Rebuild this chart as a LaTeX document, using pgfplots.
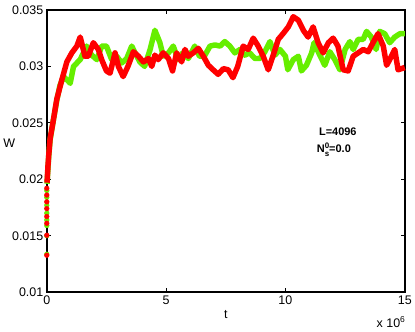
\documentclass[border=0pt]{standalone}
\usepackage{pgfplots}
\pgfplotsset{compat=1.18}
\usepackage{fontspec}
\setmainfont{Liberation Sans}
\definecolor{wgreen}{HTML}{66EE00}
\definecolor{wred}{HTML}{FF0000}

\begin{document}
\begin{tikzpicture}
\begin{axis}[
    scale only axis,
    width=359pt, height=283pt,
    xmin=0, xmax=15, ymin=0.01, ymax=0.035,
    axis line style={line width=1.6pt},
    tick style={black, line width=0.8pt},
    tick align=inside,
    major tick length=4pt,
    scaled ticks=false,
    xtick={0,5,10,15},
    xticklabels={0,5,10,15},
    ytick={0.01,0.015,0.02,0.025,0.03,0.035},
    yticklabels={0.01,0.015,0.02,0.025,0.03,0.035},
    ticklabel style={font=\fontsize{12.5}{14}\selectfont},
    xlabel={t}, ylabel={W},
    label style={font=\fontsize{12.5}{14}\selectfont},
    xlabel style={at={(axis description cs:0.5,-0.078)}, anchor=center},
    ylabel style={at={(axis description cs:-0.105,0.527)}, anchor=center, rotate=-90},
    clip=false,
]
% green series
\addplot[wgreen, only marks, mark=*, mark size=2.4pt] coordinates {
(0,0.01336) (0,0.0150) (0,0.0159) (0,0.0164) (0,0.0170) (0,0.0177) (0,0.0184) (0,0.0190)
};
\addplot[wgreen, line width=5.5pt, line join=round, mark=none] coordinates {
(0.01,0.0196) (0.05,0.0210) (0.08,0.0220) (0.14,0.0235) (0.28,0.0253) (0.42,0.0270)
(0.55,0.0283) (0.7,0.0291) (0.9,0.0287) (0.98,0.0285) (1.12,0.0300) (1.4,0.0306)
(1.67,0.0318) (1.88,0.0310) (2.1,0.0306) (2.3,0.0318) (2.5,0.0318) (2.72,0.0306)
(2.93,0.0309) (3.14,0.0303) (3.35,0.0307) (3.56,0.0318) (3.7,0.0312) (3.9,0.0304)
(4.1,0.0300) (4.33,0.0315) (4.53,0.0332) (4.74,0.0321) (4.88,0.0309) (5.1,0.0312)
(5.3,0.0318) (5.5,0.0306) (5.7,0.0312) (5.93,0.0307) (6.2,0.0318) (6.4,0.0309)
(6.6,0.0309) (6.84,0.0318) (7.05,0.0319) (7.26,0.0318) (7.46,0.0322) (7.67,0.0318)
(7.88,0.0312) (8.1,0.0315) (8.3,0.0310) (8.5,0.0312) (8.72,0.0307) (8.93,0.0307)
(9.14,0.0313) (9.35,0.0322) (9.56,0.0310) (9.77,0.0315) (10.0,0.0309) (10.1,0.0297)
(10.33,0.0306) (10.54,0.0309) (10.67,0.0296) (10.88,0.0301) (11.1,0.0312) (11.2,0.0321)
(11.44,0.0310) (11.65,0.0301) (11.86,0.0313) (12.07,0.0306) (12.28,0.0297) (12.5,0.0315)
(12.7,0.0322) (12.84,0.0315) (13.05,0.0324) (13.26,0.0324) (13.4,0.0331) (13.6,0.0326)
(13.8,0.0315) (13.95,0.0331) (14.16,0.0329) (14.37,0.0321) (14.58,0.0326) (14.8,0.0329)
(15.0,0.0329)
};
% red series
\addplot[wred, only marks, mark=*, mark size=2.4pt] coordinates {
(0,0.01327) (0,0.01504) (0,0.0161) (0,0.0167) (0,0.0174) (0,0.0180) (0,0.0186) (0,0.0192)
};
\addplot[wred, line width=5.5pt, line join=round, mark=none] coordinates {
(0.01,0.0197) (0.05,0.0212) (0.08,0.0221) (0.14,0.0236) (0.28,0.0253) (0.42,0.0271)
(0.63,0.0288) (0.84,0.0304) (1.05,0.0312) (1.26,0.0318) (1.4,0.0326) (1.6,0.0309)
(1.74,0.0309) (1.95,0.0321) (2.16,0.0315) (2.3,0.0306) (2.5,0.0296) (2.65,0.0294)
(2.86,0.0312) (3.0,0.0300) (3.2,0.0291) (3.4,0.0300) (3.63,0.0313) (3.84,0.0309)
(4.05,0.0304) (4.26,0.0307) (4.4,0.0300) (4.53,0.0310) (4.67,0.0306) (4.88,0.0312)
(5.1,0.0307) (5.27,0.0296) (5.44,0.0312) (5.65,0.0304) (5.79,0.0315) (5.93,0.0309)
(6.14,0.0312) (6.35,0.0316) (6.56,0.0309) (6.77,0.0301) (6.97,0.0297) (7.18,0.0293)
(7.4,0.0298) (7.6,0.0297) (7.8,0.0290) (8.0,0.0300) (8.23,0.0318) (8.44,0.0315)
(8.65,0.0325) (8.86,0.0318) (9.07,0.0309) (9.28,0.0297) (9.49,0.0310) (9.7,0.0324)
(9.9,0.0329) (10.12,0.0335) (10.33,0.0344) (10.54,0.0341) (10.75,0.0332) (10.95,0.0326)
(11.16,0.0335) (11.37,0.0321) (11.58,0.0312) (11.8,0.0321) (12.0,0.0325) (12.2,0.0318)
(12.42,0.0297) (12.63,0.0296) (12.84,0.0309) (13.05,0.0312) (13.26,0.0315) (13.47,0.0313)
(13.67,0.0321) (13.88,0.0329) (14.1,0.0318) (14.24,0.0301) (14.37,0.0306) (14.58,0.0315)
(14.72,0.0297) (15.0,0.0299)
};
\node[font=\bfseries\fontsize{11}{13}\selectfont] at (axis description cs:0.813,0.569) {L=4096};
\node[font=\bfseries\fontsize{11}{13}\selectfont] at (axis description cs:0.802,0.505)
  {N\makebox[0pt][l]{\raisebox{0.7ex}{\fontsize{8}{9}\selectfont 0}}\raisebox{-0.6ex}{\fontsize{8}{9}\selectfont s}=0.0};
\node[font=\fontsize{12.5}{14}\selectfont] at (axis description cs:0.961,-0.106)
  {x 10\raisebox{0.8ex}{\fontsize{8.5}{9}\selectfont 6}};
\end{axis}
\path ([shift={(-46pt,-37pt)}]current axis.south west) rectangle ([shift={(10pt,10pt)}]current axis.north east);
\end{tikzpicture}
\end{document}
